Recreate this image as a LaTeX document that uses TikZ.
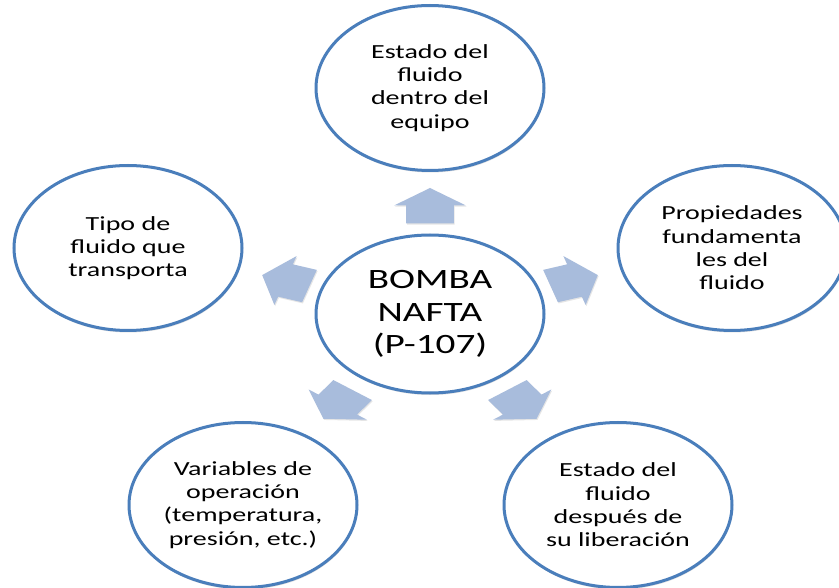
\documentclass[tikz,border=0pt]{standalone}
\usepackage{fontspec}
\setmainfont{Carlito}[FakeStretch=1.4]
\usetikzlibrary{shapes.geometric,shadows}
\definecolor{ringblue}{HTML}{4A7EBB}
\definecolor{arrowblue}{HTML}{A8BCDC}
\tikzset{
  bubble/.style={ellipse, draw=ringblue, line width=3pt, fill=white,
    minimum width=228pt, minimum height=165pt, inner sep=0pt, align=center,
    font=\fontsize{20}{23.3}\selectfont, text=black,
    drop shadow={shadow xshift=0.6pt, shadow yshift=-2pt, opacity=0.25}},
  hub/.style={bubble, minimum height=158pt, font=\fontsize{28}{32.5}\selectfont},
  blockarrow/.style={fill=arrowblue,
    drop shadow={shadow xshift=0.8pt, shadow yshift=-1.2pt, opacity=0.2}}
}
\begin{document}
\begin{tikzpicture}[x=1pt, y=-1pt]
  \clip (0,0) rectangle (839,588);
  \fill[white] (0,0) rectangle (839,588);
  % block arrows (drawn in unstretched frame, then stretched horizontally)
  \foreach \px/\py/\ang in {430/205.5/90, 574.5/280.5/18, 285.5/280.5/162,
                            522.2/404.6/-54, 337.8/404.6/234}{
    \begin{scope}[shift={(\px,\py)}, xscale=1.4, rotate=\ang]
      \fill[blockarrow] (-18pt,-17pt) -- (0pt,-17pt) -- (0pt,-25.7pt)
        -- (17.5pt,0pt) -- (0pt,25.7pt) -- (0pt,17pt) -- (-18pt,17pt) -- cycle;
    \end{scope}
  }
  \node[hub] (hub) at (430,314) {BOMBA\\NAFTA\\(P-107)};
  \node[bubble] (estado) at (430,88) {Estado del\\fluido\\dentro del\\equipo};
  \node[bubble] (prop) at (732,248) {Propiedades\\fundamenta\\les del\\fluido};
  \node[bubble] (tipo) at (128,248) {Tipo de\\fluido que\\transporta};
  \node[bubble] (vars) at (243,505) {Variables de\\operación\\(temperatura,\\presión, etc.)};
  \node[bubble] (lib) at (618,505) {Estado del\\fluido\\después de\\su liberación};
\end{tikzpicture}
\end{document}
